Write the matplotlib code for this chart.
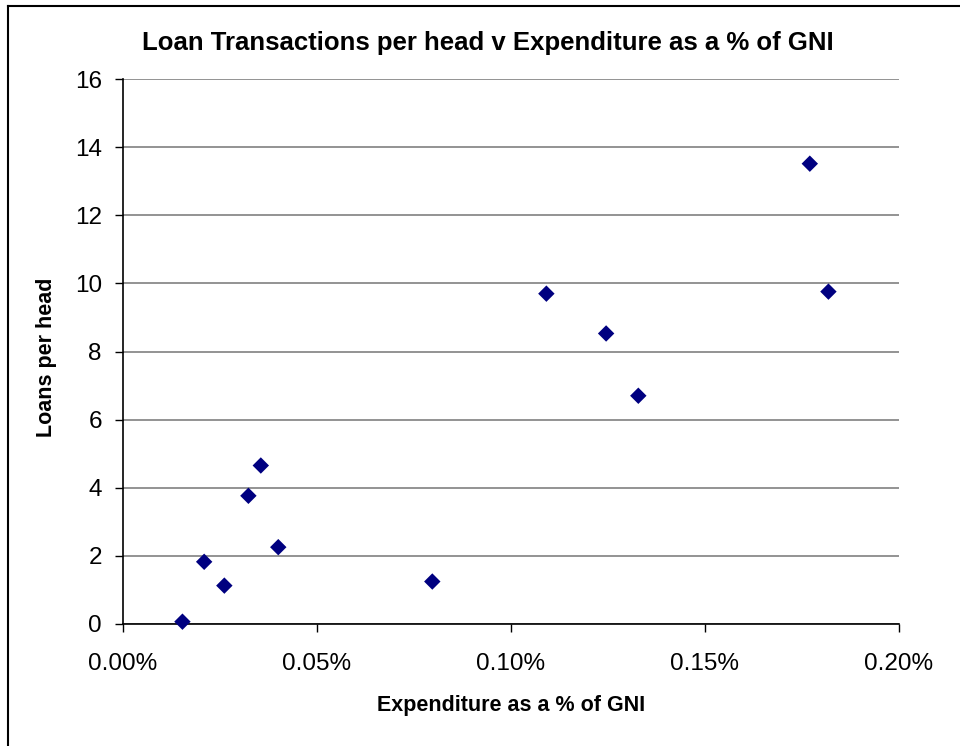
import matplotlib
matplotlib.use("Agg")
import matplotlib.pyplot as plt
from matplotlib.ticker import FuncFormatter
from matplotlib.lines import Line2D

plt.rcParams["font.family"] = ["Liberation Sans", "DejaVu Sans"]

# expenditure as a % of GNI (in percent units) and loans per head
expenditure = [0.0154, 0.0210, 0.0262, 0.0324, 0.0356, 0.0401, 0.0798,
               0.1092, 0.1246, 0.1329, 0.1771, 0.1819]
loans = [0.06, 1.82, 1.12, 3.76, 4.65, 2.25, 1.24,
         9.70, 8.53, 6.70, 13.52, 9.76]

fig = plt.figure(figsize=(9.6, 7.46), dpi=100)
ax = fig.add_axes([0.1278, 0.1639, 0.8083, 0.7298])

ax.scatter(expenditure, loans, marker="D", s=70, color="#000080",
           edgecolors="none", zorder=3, clip_on=False)

ax.set_xlim(0, 0.2)
ax.set_ylim(0, 16)
ax.set_xticks([0, 0.05, 0.10, 0.15, 0.20])
ax.set_yticks(range(0, 17, 2))
ax.xaxis.set_major_formatter(FuncFormatter(lambda v, _: f"{v:.2f}%"))

ax.grid(axis="y", color="#808080", linewidth=1.2)
ax.set_axisbelow(True)
for side in ("top", "right"):
    ax.spines[side].set_visible(False)
for side in ("left", "bottom"):
    ax.spines[side].set_linewidth(1.2)
    ax.spines[side].set_color("black")
ax.tick_params(axis="both", direction="out", length=6, width=1, labelsize=17.5)
ax.tick_params(axis="x", pad=15)
ax.tick_params(axis="y", pad=9)

fig.text(488 / 960, 1 - 43 / 746,
         "Loan Transactions per head v Expenditure as a % of GNI",
         fontsize=18.5, fontweight="bold", ha="center", va="center")
ax.set_xlabel("Expenditure as a % of GNI", fontsize=15.5, fontweight="bold",
              va="center")
ax.xaxis.set_label_coords(0.5, -0.151)
ax.set_ylabel("Loans per head", fontsize=15.5, fontweight="bold", va="center")
ax.yaxis.set_label_coords(-0.098, 0.49)

# chart border (only top and left edges visible)
fig.add_artist(Line2D([8 / 960, 8 / 960], [0, 1 - 6 / 746],
                      transform=fig.transFigure, color="black", linewidth=1.5))
fig.add_artist(Line2D([8 / 960, 1], [1 - 6 / 746, 1 - 6 / 746],
                      transform=fig.transFigure, color="black", linewidth=1.5))

fig.savefig("out.png", dpi=100)
